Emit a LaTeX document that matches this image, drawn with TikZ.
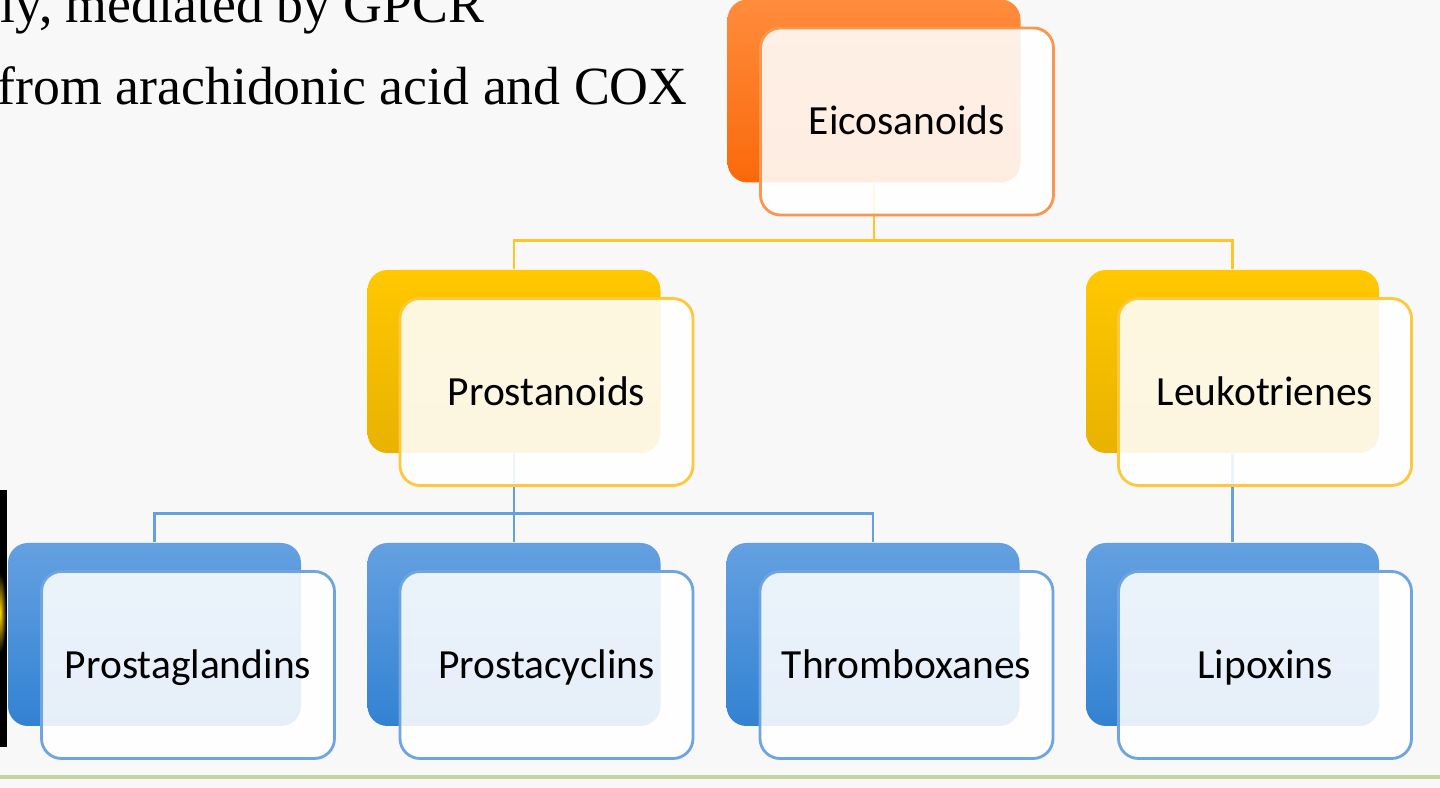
\documentclass[tikz,border=0pt]{standalone}
\usepackage{fontspec}
\setmainfont{Liberation Serif}
\newfontfamily\boxfont{Carlito}
\usepackage{tikz}
\usetikzlibrary{calc}

\begin{document}
\begin{tikzpicture}[x=1cm,y=1cm,
    back/.style={rounded corners=0.2cm, minimum width=2.93cm, minimum height=1.83cm, inner sep=0pt},
    front/.style={rounded corners=0.2cm, minimum width=2.93cm, minimum height=1.87cm, inner sep=0pt,
      fill=white, fill opacity=0.88, text opacity=1, line width=0.8pt,
      text height=0.82em, text depth=0.06em,
      font=\boxfont\fontsize{11.8}{14}\selectfont},
    link/.style={line width=0.8pt},
    slide/.style={anchor=base west, inner sep=0pt, font=\fontsize{15.3}{18}\selectfont}]
    \definecolor{bgc}{RGB}{248,248,248}
    \definecolor{orgtop}{RGB}{255,140,60}
    \definecolor{orgbot}{RGB}{250,105,10}
    \definecolor{orgedge}{RGB}{250,150,80}
    \definecolor{ylwtop}{RGB}{255,200,0}
    \definecolor{ylwbot}{RGB}{232,178,0}
    \definecolor{ylwedge}{RGB}{255,200,60}
    \definecolor{ylwlink}{RGB}{255,196,40}
    \definecolor{blutop}{RGB}{100,160,225}
    \definecolor{blubot}{RGB}{50,130,210}
    \definecolor{bluedge}{RGB}{110,165,225}
    \definecolor{blulink}{RGB}{100,160,225}
    \definecolor{rulec}{RGB}{196,214,160}

    \useasboundingbox (0,0) rectangle (14.4,7.88);
    \clip (0,0) rectangle (14.4,7.88);
    \fill[bgc] (0,0) rectangle (14.4,7.88);

    % slide text
    \node[slide] (lineA) at (0.0,7.65) {ly, mediated by GPCR};
    \node[slide] (lineB) at (-0.03,6.83) {from arachidonic acid and COX};

    \fill[black] (0,0.41) rectangle (0.07,2.98);
    \shade[inner color=yellow!70!orange, outer color=black] (0,1.75) ellipse (0.06 and 0.4);
    \draw[line width=1pt, color=rulec] (0,0.11) -- (14.4,0.11);

    % back boxes
    \node[back, top color=orgtop, bottom color=orgbot] (eico-bk) at (8.74,6.97) {};
    \node[back, top color=ylwtop, bottom color=ylwbot] (prosn-bk) at (5.14,4.265) {};
    \node[back, top color=ylwtop, bottom color=ylwbot] (leuko-bk) at (12.325,4.265) {};
    \node[back, top color=blutop, bottom color=blubot] (pgl-bk) at (1.545,1.535) {};
    \node[back, top color=blutop, bottom color=blubot] (pcy-bk) at (5.14,1.535) {};
    \node[back, top color=blutop, bottom color=blubot] (txa-bk) at (8.73,1.535) {};
    \node[back, top color=blutop, bottom color=blubot] (lipo-bk) at (12.325,1.535) {};

    % connectors
    \coordinate (bar1) at ($(prosn-bk.north)+(0,0.29)$);
    \coordinate (bar2) at ($(pgl-bk.north)+(0,0.29)$);
    \draw[link, color=ylwlink] (eico-bk.south) -- (eico-bk.south |- bar1) -| (prosn-bk.north);
    \draw[link, color=ylwlink] (eico-bk.south |- bar1) -| (leuko-bk.north);
    \draw[link, color=blulink] (prosn-bk.south) -- (prosn-bk.south |- bar2) -| (pgl-bk.north);
    \draw[link, color=blulink] (prosn-bk.south |- bar2) -- (pcy-bk.north);
    \draw[link, color=blulink] (prosn-bk.south |- bar2) -| (txa-bk.north);
    \draw[link, color=blulink] (leuko-bk.south) -- (lipo-bk.north);

    % front boxes
    \node[front, draw=orgedge] (eico) at (9.07,6.665) {Eicosanoids};
    \node[front, draw=ylwedge] (prosn) at (5.465,3.96) {Prostanoids};
    \node[front, draw=ylwedge] (leuko) at (12.65,3.96) {Leukotrienes};
    \node[front, draw=bluedge] (pgl) at (1.88,1.23) {Prostaglandins};
    \node[front, draw=bluedge] (pcy) at (5.465,1.23) {Prostacyclins};
    \node[front, draw=bluedge] (txa) at (9.065,1.23) {Thromboxanes};
    \node[front, draw=bluedge] (lipo) at (12.65,1.23) {Lipoxins};
  \end{tikzpicture}
\end{document}
